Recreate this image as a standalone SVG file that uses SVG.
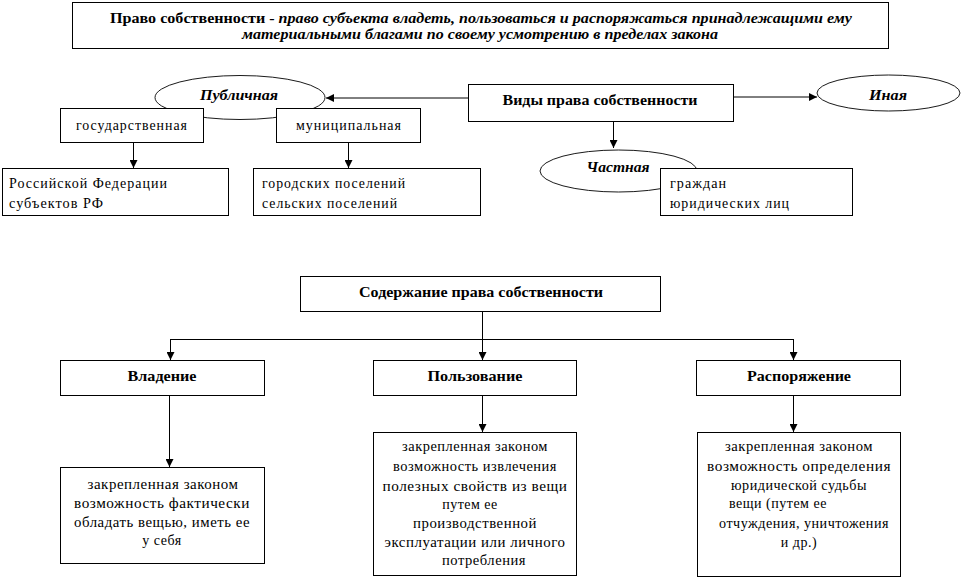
<svg xmlns="http://www.w3.org/2000/svg" width="962" height="578" viewBox="0 0 962 578" font-family="'Liberation Serif', 'Times New Roman', serif">
<style>
.box{fill:#fff;stroke:#000;stroke-width:1}
.ell{fill:#fff;stroke:#000;stroke-width:0.9}
.ln{fill:none;stroke:#000;stroke-width:1}
text{font-family:'Liberation Serif','Times New Roman',serif;fill:#000}
.t{font-size:14px;letter-spacing:1px}
.d{font-size:14px;letter-spacing:0.5px;text-anchor:middle}
.b{font-size:15px;font-weight:bold;text-anchor:middle}
.bi{font-size:15px;font-weight:bold;font-style:italic;text-anchor:middle}
</style>
<defs>
<marker id="arr" markerWidth="9" markerHeight="8" refX="8" refY="4" orient="auto" markerUnits="userSpaceOnUse">
<path d="M0,0 L8,4 L0,8 Z" fill="#000"/>
</marker>
</defs>
<rect width="962" height="578" fill="#fff"/>

<g id="title">
<rect class="box" x="72.5" y="2.5" width="816" height="46"/>
<text x="481" y="23" class="b" textLength="742" lengthAdjust="spacingAndGlyphs"><tspan>Право собственности -  </tspan><tspan font-style="italic">право субъекта владеть, пользоваться и распоряжаться принадлежащими ему</tspan></text>
<text x="480" y="39" class="bi" textLength="476" lengthAdjust="spacingAndGlyphs">материальными благами по своему усмотрению в пределах закона</text>
</g>

<g id="public">
<ellipse class="ell" cx="240" cy="97.5" rx="85" ry="22"/>
<text x="239" y="100" class="bi" font-size="14" textLength="78" lengthAdjust="spacingAndGlyphs">Публичная</text>
</g>
<g id="state">
<rect class="box" x="60.5" y="108.5" width="143" height="34"/>
<text x="132" y="130" class="t" text-anchor="middle" textLength="112" lengthAdjust="spacingAndGlyphs">государственная</text>
</g>
<g id="municipal">
<rect class="box" x="276.5" y="108.5" width="144" height="34"/>
<text x="349" y="130" class="t" text-anchor="middle" textLength="106" lengthAdjust="spacingAndGlyphs">муниципальная</text>
</g>
<g id="rf">
<rect class="box" x="2.5" y="168.5" width="226" height="47"/>
<text x="9" y="188" class="t" textLength="159" lengthAdjust="spacingAndGlyphs">Российской Федерации</text>
<text x="9" y="208" class="t" textLength="95" lengthAdjust="spacingAndGlyphs">субъектов РФ</text>
</g>
<g id="settlements">
<rect class="box" x="253.5" y="168.5" width="227" height="47"/>
<text x="262" y="188" class="t" textLength="144" lengthAdjust="spacingAndGlyphs">городских поселений</text>
<text x="262" y="208" class="t" textLength="136" lengthAdjust="spacingAndGlyphs">сельских поселений</text>
</g>
<g id="types">
<rect class="box" x="468.5" y="84.5" width="265" height="37"/>
<text x="600" y="105" class="b" textLength="195" lengthAdjust="spacingAndGlyphs">Виды права собственности</text>
</g>
<g id="other">
<ellipse class="ell" cx="888.5" cy="93" rx="71.5" ry="18"/>
<text x="888" y="100" class="bi" font-size="14" textLength="38" lengthAdjust="spacingAndGlyphs">Иная</text>
</g>
<g id="private">
<ellipse class="ell" cx="618.5" cy="171" rx="78.5" ry="21"/>
<text x="618" y="172" class="bi" font-size="14" textLength="63" lengthAdjust="spacingAndGlyphs">Частная</text>
</g>
<g id="citizens">
<rect class="box" x="660.5" y="168.5" width="192" height="47"/>
<text x="670" y="188" class="t" textLength="57" lengthAdjust="spacingAndGlyphs">граждан</text>
<text x="670" y="208" class="t" textLength="120" lengthAdjust="spacingAndGlyphs">юридических лиц</text>
</g>

<g id="content">
<rect class="box" x="300.5" y="276.5" width="360" height="35"/>
<text x="481" y="297" class="b" textLength="244" lengthAdjust="spacingAndGlyphs">Содержание права собственности</text>
</g>
<g id="possession">
<rect class="box" x="60.5" y="360.5" width="204" height="35"/>
<text x="162" y="381" class="b" textLength="69" lengthAdjust="spacingAndGlyphs">Владение</text>
</g>
<g id="use">
<rect class="box" x="373.5" y="360.5" width="203" height="35"/>
<text x="475" y="381" class="b" textLength="95" lengthAdjust="spacingAndGlyphs">Пользование</text>
</g>
<g id="disposal">
<rect class="box" x="696.5" y="360.5" width="204" height="35"/>
<text x="799" y="381" class="b" textLength="104" lengthAdjust="spacingAndGlyphs">Распоряжение</text>
</g>
<g id="possession-desc">
<rect class="box" x="60.5" y="467.5" width="204" height="96"/>
<text x="163" y="489" class="d" textLength="151" lengthAdjust="spacingAndGlyphs">закрепленная законом</text>
<text x="162" y="508" class="d" textLength="176" lengthAdjust="spacingAndGlyphs">возможность фактически</text>
<text x="162" y="527" class="d" textLength="176" lengthAdjust="spacingAndGlyphs">обладать вещью, иметь ее</text>
<text x="162" y="545" class="d">у себя</text>
</g>
<g id="use-desc">
<rect class="box" x="373.5" y="432.5" width="203" height="143"/>
<text x="475" y="451" class="d" textLength="146" lengthAdjust="spacingAndGlyphs">закрепленная законом</text>
<text x="475" y="471" class="d" textLength="164" lengthAdjust="spacingAndGlyphs">возможность извлечения</text>
<text x="475" y="491" class="d" textLength="185" lengthAdjust="spacingAndGlyphs">полезных свойств из вещи</text>
<text x="470" y="509" class="d">путем ее</text>
<text x="475" y="528" class="d" textLength="124" lengthAdjust="spacingAndGlyphs">производственной</text>
<text x="475" y="547" class="d" textLength="181" lengthAdjust="spacingAndGlyphs">эксплуатации или личного</text>
<text x="484" y="565" class="d" textLength="84" lengthAdjust="spacingAndGlyphs">потребления</text>
</g>
<g id="disposal-desc">
<rect class="box" x="697.5" y="432.5" width="203" height="144"/>
<text x="799" y="451" class="d" textLength="148" lengthAdjust="spacingAndGlyphs">закрепленная законом</text>
<text x="799" y="471" class="d" textLength="184" lengthAdjust="spacingAndGlyphs">возможность определения</text>
<text x="799" y="490" class="d" textLength="136" lengthAdjust="spacingAndGlyphs">юридической судьбы</text>
<text x="778" y="508" class="d">вещи (путем ее</text>
<text x="804" y="528" class="d" textLength="170" lengthAdjust="spacingAndGlyphs">отчуждения, уничтожения</text>
<text x="799" y="547" class="d">и др.)</text>
</g>

<g id="connectors">
<line class="ln" x1="468" y1="98" x2="326" y2="98" marker-end="url(#arr)"/>
<line class="ln" x1="734" y1="97" x2="817" y2="97" marker-end="url(#arr)"/>
<line class="ln" x1="613.5" y1="122" x2="613.5" y2="148" marker-end="url(#arr)"/>
<line class="ln" x1="133.5" y1="143" x2="133.5" y2="168" marker-end="url(#arr)"/>
<line class="ln" x1="348.5" y1="143" x2="348.5" y2="168" marker-end="url(#arr)"/>
<line class="ln" x1="482.5" y1="312" x2="482.5" y2="339.5"/>
<line class="ln" x1="170" y1="339.5" x2="794" y2="339.5"/>
<line class="ln" x1="170.5" y1="339.5" x2="170.5" y2="360" marker-end="url(#arr)"/>
<line class="ln" x1="482.5" y1="339.5" x2="482.5" y2="360" marker-end="url(#arr)"/>
<line class="ln" x1="793.5" y1="339.5" x2="793.5" y2="360" marker-end="url(#arr)"/>
<line class="ln" x1="169.5" y1="396" x2="169.5" y2="467" marker-end="url(#arr)"/>
<line class="ln" x1="482.5" y1="396" x2="482.5" y2="432" marker-end="url(#arr)"/>
<line class="ln" x1="793.5" y1="396" x2="793.5" y2="432" marker-end="url(#arr)"/>
</g>
</svg>
